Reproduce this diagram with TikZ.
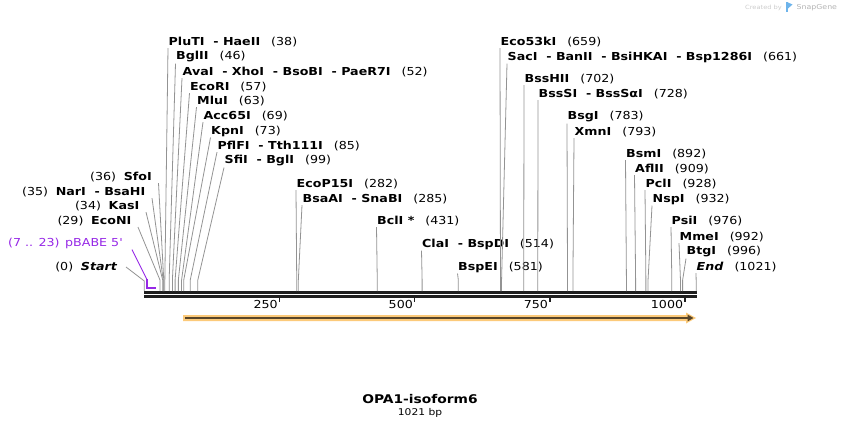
\documentclass[tikz,border=0pt]{standalone}
\usepackage{fontspec}
\setmainfont{DejaVu Sans}[FakeStretch=1.15]
\usetikzlibrary{arrows.meta}
\definecolor{pbabe}{RGB}{150,40,230}
\definecolor{cdsfill}{RGB}{252,202,122}
\definecolor{cdsline}{RGB}{88,70,42}
\definecolor{barcol}{RGB}{30,30,30}
\definecolor{snapblue}{RGB}{110,180,235}
\begin{document}
\begin{tikzpicture}[x=1pt,y=-1pt,font=\fontsize{11}{12}\selectfont,
  enz/.style={anchor=west,inner xsep=0.5pt,inner ysep=1pt},
  enzl/.style={anchor=east,inner xsep=0.5pt,inner ysep=1pt},
  leader/.style={draw=gray!85,line width=0.8pt},
  bar/.style={draw=barcol,line width=2.7pt}]
\useasboundingbox (0,0) rectangle (842,430);
\foreach \bp in {0,29,34,35,36,38,46,52,57,63,69,73,85,99,282,285,431,514,581,659,661,702,728,783,793,892,909,928,932,976,992,996,1021}
  \coordinate (b\bp) at ({144.3+0.5405*\bp},291);
\draw[bar] (144,292.3) -- (696.8,292.3);
\draw[bar] (144,296.7) -- (696.8,296.7);
\foreach \t in {250,500,750,1000} {
  \coordinate (t\t) at ({144.3+0.5405*\t},297.5);
  \draw[barcol,line width=1.8pt] (t\t) -- ++(0,4);
  \node[anchor=east,inner sep=0.5pt] (l\t) at ([xshift=-1pt,yshift=-6.5pt]t\t) {\t};
}
\node[enz] (PluTI) at (168,42) {\textbf{PluTI~~- HaeII}\quad(38)};
\node[enz] (BglII) at (175.5,57) {\textbf{BglII}\quad(46)};
\node[enz] (AvaI) at (182,72) {\textbf{AvaI~~- XhoI~~- BsoBI~~- PaeR7I}\quad(52)};
\node[enz] (EcoRI) at (189.5,87) {\textbf{EcoRI}\quad(57)};
\node[enz] (MluI) at (196.5,101) {\textbf{MluI}\quad(63)};
\node[enz] (Acc65I) at (203,116) {\textbf{Acc65I}\quad(69)};
\node[enz] (KpnI) at (210.5,131) {\textbf{KpnI}\quad(73)};
\node[enz] (PflFI) at (217,146) {\textbf{PflFI~~- Tth111I}\quad(85)};
\node[enz] (SfiI) at (224,161) {\textbf{SfiI~~- BglI}\quad(99)};
\node[enz] (EcoP15I) at (296,184) {\textbf{EcoP15I}\quad(282)};
\node[enz] (BsaAI) at (302,199) {\textbf{BsaAI~~- SnaBI}\quad(285)};
\node[enz] (BclI) at (376.5,221) {\textbf{BclI *}\quad(431)};
\node[enz] (ClaI) at (421.5,244) {\textbf{ClaI~~- BspDI}\quad(514)};
\node[enz] (BspEI) at (457.5,267) {\textbf{BspEI}\quad(581)};
\node[enz] (Eco53kI) at (500,42) {\textbf{Eco53kI}\quad(659)};
\node[enz] (SacI) at (507,57) {\textbf{SacI~~- BanII~~- BsiHKAI~~- Bsp1286I}\quad(661)};
\node[enz] (BssHII) at (524,79) {\textbf{BssHII}\quad(702)};
\node[enz] (BssSI) at (538,94) {\textbf{BssSI~~- BssSαI}\quad(728)};
\node[enz] (BsgI) at (567,117) {\textbf{BsgI}\quad(783)};
\node[enz] (XmnI) at (574,132) {\textbf{XmnI}\quad(793)};
\node[enz] (BsmI) at (625.5,154) {\textbf{BsmI}\quad(892)};
\node[enz] (AflII) at (634.5,169) {\textbf{AflII}\quad(909)};
\node[enz] (PclI) at (645,184) {\textbf{PclI}\quad(928)};
\node[enz] (NspI) at (652,199) {\textbf{NspI}\quad(932)};
\node[enz] (PsiI) at (671,221) {\textbf{PsiI}\quad(976)};
\node[enz] (MmeI) at (679,237) {\textbf{MmeI}\quad(992)};
\node[enz] (BtgI) at (686,252) {\textbf{BtgI}\quad(996)};
\node[enz] (End) at (696,267) {\textbf{\itshape End}\quad(1021)};
\node[enzl] (SfoI) at (152.5,177) {(36)\hspace{0.7em}\textbf{SfoI}};
\node[enzl] (NarI) at (146,192) {(35)\hspace{0.7em}\textbf{NarI~~- BsaHI}};
\node[enzl] (KasI) at (140,206) {(34)\hspace{0.7em}\textbf{KasI}};
\node[enzl] (EcoNI) at (132,221) {(29)\hspace{0.7em}\textbf{EcoNI}};
\node[enzl,text=pbabe] (pBABE) at (123,243) {(7 .. 23)\hspace{0.5em}pBABE 5\textquotesingle};
\node[enzl] (Start) at (118,267) {(0)\hspace{0.7em}\textbf{\itshape Start}};
\foreach \nm/\bp in {PluTI/38,BglII/46,AvaI/52,EcoRI/57,MluI/63,Acc65I/69,KpnI/73,PflFI/85,SfiI/99,EcoP15I/282,BsaAI/285,BclI/431,ClaI/514,BspEI/581,Eco53kI/659,SacI/661,BssHII/702,BssSI/728,BsgI/783,XmnI/793,BsmI/892,AflII/909,PclI/928,NspI/932,PsiI/976,MmeI/992,BtgI/996,End/1021}
  \draw[leader] (\nm.south west) -- ([yshift=11pt]b\bp) -- (b\bp);
\foreach \nm/\bp in {SfoI/36,NarI/35,KasI/34,EcoNI/29}
  \draw[leader] ([xshift=6pt]\nm.south east) -- ([yshift=11pt]b\bp) -- (b\bp);
\draw[leader] ([xshift=8pt]Start.east) -- ([yshift=10pt]b0) -- (b0);
\coordinate (p7) at (146.7,288);
\coordinate (p23) at (156,288);
\draw[pbabe,line width=0.9pt] ([xshift=9pt]pBABE.south east) -- ([yshift=9pt]p7);
\draw[pbabe,line width=1.7pt] ([yshift=9pt]p7) -- (p7) -- (p23);
\coordinate (cdsL) at (185,318);
\coordinate (cdsR) at (693.5,318);
\fill[cdsfill] (183,315) -- (686,315) -- (686,312.5) -- (696,318) -- (686,323.5) -- (686,321) -- (183,321) -- cycle;
\draw[cdsline,line width=2pt,-{Triangle[length=6pt,width=6.5pt]}] (cdsL) -- (cdsR);
\node[font=\bfseries\fontsize{12}{13}\selectfont] (title) at (420,399) {OPA1-isoform6};
\node[font=\fontsize{9.3}{10}\selectfont] (size) at (420,413) {1021 bp};
\node[anchor=west,inner sep=0pt,text=gray!40,font=\fontsize{5.8}{6}\selectfont] (made) at (745,7.5) {Created by};
\fill[snapblue] (785.5,2.5) rectangle (788,12.5);
\fill[snapblue] (788,2.5) -- (792.5,4.5) -- (788,8.5) -- cycle;
\node[anchor=west,inner sep=0pt,text=gray!60,font=\fontsize{6.8}{7}\selectfont] (snap) at (796.5,7.5) {SnapGene};
\end{tikzpicture}
\end{document}
